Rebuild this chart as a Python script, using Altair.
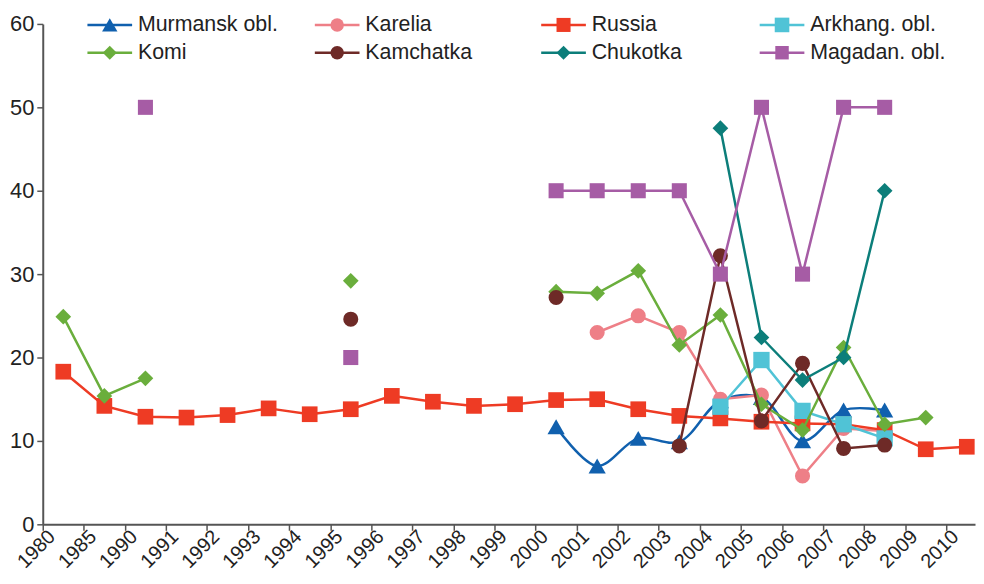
import altair as alt
import pandas as pd

N = None
categories = ['1980', '1985', '1990', '1991', '1992', '1993', '1994', '1995', '1996',
              '1997', '1998', '1999', '2000', '2001', '2002', '2003', '2004', '2005',
              '2006', '2007', '2008', '2009', '2010']

murmansk = [N, N, N, N, N, N, N, N, N, N, N, N, 11.7, 7.0, 10.3, 9.9, 14.8, 15.2, 10.0, 13.7, 13.7, N, N]
karelia = [N, N, N, N, N, N, N, N, N, N, N, N, N, 23.0, 25.0, 23.0, 15.0, 15.5, 5.8, 11.5, 11.2, N, N]
russia = [18.3, 14.2, 12.9, 12.8, 13.1, 13.9, 13.2, 13.8, 15.4, 14.7, 14.2, 14.4, 14.9, 15.0,
          13.8, 13.0, 12.7, 12.3, 12.1, 12.0, 11.3, 9.0, 9.3]
arkhang = [N, N, N, N, N, N, N, N, N, N, N, N, N, N, N, N, 14.1, 19.7, 13.6, 12.0, 10.3, N, N]
komi = [24.9, 15.4, 17.5, N, N, N, N, 29.2, N, N, N, N, 27.9, 27.7, 30.4, 21.5, 25.1, 14.4,
        11.3, 21.2, 12.0, 12.8, N]
kamchatka = [N, N, N, N, N, N, N, 24.6, N, N, N, N, 27.2, N, N, 9.4, 32.2, 12.4, 19.3, 9.1, 9.5, N, N]
chukotka = [N, N, N, N, N, N, N, N, N, N, N, N, N, N, N, N, 47.5, 22.4, 17.3, 20.0, 40.0, N, N]
magadan = [N, N, 50, N, N, N, N, 20, N, N, N, N, 40, 40, 40, 40, 30, 50, 30, 50, 50, N, N]

series_names = ['Murmansk obl.', 'Karelia', 'Russia', 'Arkhang. obl.',
                'Komi', 'Kamchatka', 'Chukotka', 'Magadan. obl.']
series_values = [murmansk, karelia, russia, arkhang, komi, kamchatka, chukotka, magadan]
colors = ['#1060ae', '#ee7f87', '#ee3b24', '#50c3d6', '#6aae3c', '#6e2a27', '#0c7e7a', '#a65ca5']
shapes = ['triangle-up', 'circle', 'square', 'square', 'diamond', 'circle', 'diamond', 'square']
sizes = [300, 230, 250, 270, 250, 230, 250, 230]
interps = ['catmull-rom', 'linear', 'linear', 'linear', 'linear', 'linear', 'linear', 'linear']

rows = []
for name, vals in zip(series_names, series_values):
    seg = 0
    for i, v in enumerate(vals):
        if v is None:
            seg += 1
            continue
        rows.append({'series': name, 'x': i + 0.5, 'v': v, 'seg': f'{name}-{seg}'})
df = pd.DataFrame(rows)

FONT = 'Liberation Sans'
label_arr = '[' + ','.join(f"'{c}'" for c in categories) + ']'

X = alt.X('x:Q', title=None,
          scale=alt.Scale(domain=[0, 22.7], nice=False, zero=False),
          axis=alt.Axis(values=list(range(23)), labelExpr=f'{label_arr}[datum.value]',
                        labelAngle=-45, labelAlign='right', labelBaseline='middle',
                        labelPadding=3, labelOffset=9, tickSize=6, grid=False,
                        labelFontSize=20, labelFont=FONT, labelColor='#222',
                        domainColor='#555', tickColor='#555', domainWidth=2, tickWidth=1.5,
                        labelOverlap=False, labelFlush=False, labelBound=False))
Y = alt.Y('v:Q', title=None,
          scale=alt.Scale(domain=[0, 60], nice=False),
          axis=alt.Axis(values=[0, 10, 20, 30, 40, 50, 60], grid=False, tickSize=6,
                        labelFontSize=22, labelFont=FONT, labelColor='#222', labelPadding=3,
                        domainColor='#555', tickColor='#555', domainWidth=2, tickWidth=1.5))

layers = []
for name, c, sh, sz, ip in zip(series_names, colors, shapes, sizes, interps):
    base = alt.Chart(df).transform_filter(alt.datum.series == name)
    layers.append(base.mark_line(color=c, strokeWidth=2.5, interpolate=ip).encode(
        x=X, y=Y, detail='seg:N'))
    layers.append(base.mark_point(filled=True, opacity=1, color=c, shape=sh, size=sz).encode(
        x=X, y=Y))

# legend (positions in data units)
col_x = [1.088, 6.625, 12.137, 17.457]
row_y = [59.88, 56.55]
leg_line, leg_mark, leg_text = [], [], []
for k, (name, c, sh, sz) in enumerate(zip(series_names, colors, shapes, sizes)):
    cx = col_x[k % 4]
    ry = row_y[k // 4]
    leg_line.append({'series': name, 'x': cx, 'x2': cx + 1.088, 'v': ry, 'color': c})
    leg_mark.append({'series': name, 'x': cx + 0.544, 'v': ry, 'color': c, 'shape': sh,
                     'size': sz * 0.8})
    leg_text.append({'series': name, 'x': cx + 1.23, 'v': ry})

layers.append(alt.Chart(pd.DataFrame(leg_line)).mark_rule(strokeWidth=2.5).encode(
    x=X, x2='x2:Q', y=Y, color=alt.Color('color:N', scale=None)))
layers.append(alt.Chart(pd.DataFrame(leg_mark)).mark_point(filled=True, opacity=1).encode(
    x=X, y=Y,
    color=alt.Color('color:N', scale=None),
    shape=alt.Shape('shape:N', scale=None), size=alt.Size('size:Q', scale=None)))
layers.append(alt.Chart(pd.DataFrame(leg_text)).mark_text(
    align='left', baseline='middle', fontSize=21.5, font=FONT, color='#222').encode(
    x=X, y=Y, text='series:N'))

chart = alt.layer(*layers).properties(
    width=939, height=504,
    padding={'left': 35, 'top': 14, 'right': 1, 'bottom': 49},
    autosize=alt.AutoSizeParams(type='none'),
    background='white'
).configure_view(stroke=None)

chart.save('out.html', embed_options={'renderer': 'svg', 'actions': False})
